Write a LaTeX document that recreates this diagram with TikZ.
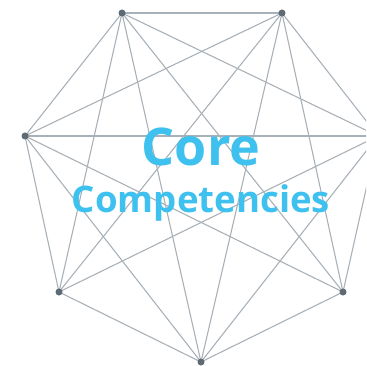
\documentclass[tikz,border=0pt]{standalone}
\usepackage{fontspec}
\setmainfont{Open Sans}
\definecolor{edgec}{HTML}{A9B1B8}
\definecolor{dotc}{HTML}{5E6A74}
\definecolor{txtc}{HTML}{3EC1EF}
\begin{document}
\begin{tikzpicture}[x=1pt,y=-1pt,
  vtx/.style={circle,fill=dotc,inner sep=0pt,minimum size=7pt},
  edge/.style={draw=edgec,line width=1.1pt},
  title/.style={text=txtc,font=\bfseries,inner sep=0pt,anchor=base}]
\useasboundingbox (0,0) rectangle (366,366);
\begin{scope}
\clip (0,0) rectangle (366,366);
\coordinate (A) at (122,13);
\coordinate (B) at (282,13);
\coordinate (C) at (378,136);
\coordinate (D) at (25,136);
\coordinate (E) at (59,292);
\coordinate (F) at (343,292);
\coordinate (G) at (201,362);
\foreach \p/\q in {A/B,A/C,A/D,A/E,A/F,A/G,B/C,B/D,B/E,B/F,B/G,C/D,C/E,C/F,C/G,D/E,D/F,D/G,E/G,F/G}
  \draw[edge] (\p) -- (\q);
\foreach \p in {A,B,C,D,E,F,G}
  \node[vtx] (v\p) at (\p) {};
\end{scope}
\node[title,font=\bfseries\fontsize{52}{52}\selectfont] (core) at (201,165) {Core};
\node[title,font=\bfseries\fontsize{36.6}{36.6}\selectfont] (comp) at (201,212) {Competencies};
\end{tikzpicture}
\end{document}
